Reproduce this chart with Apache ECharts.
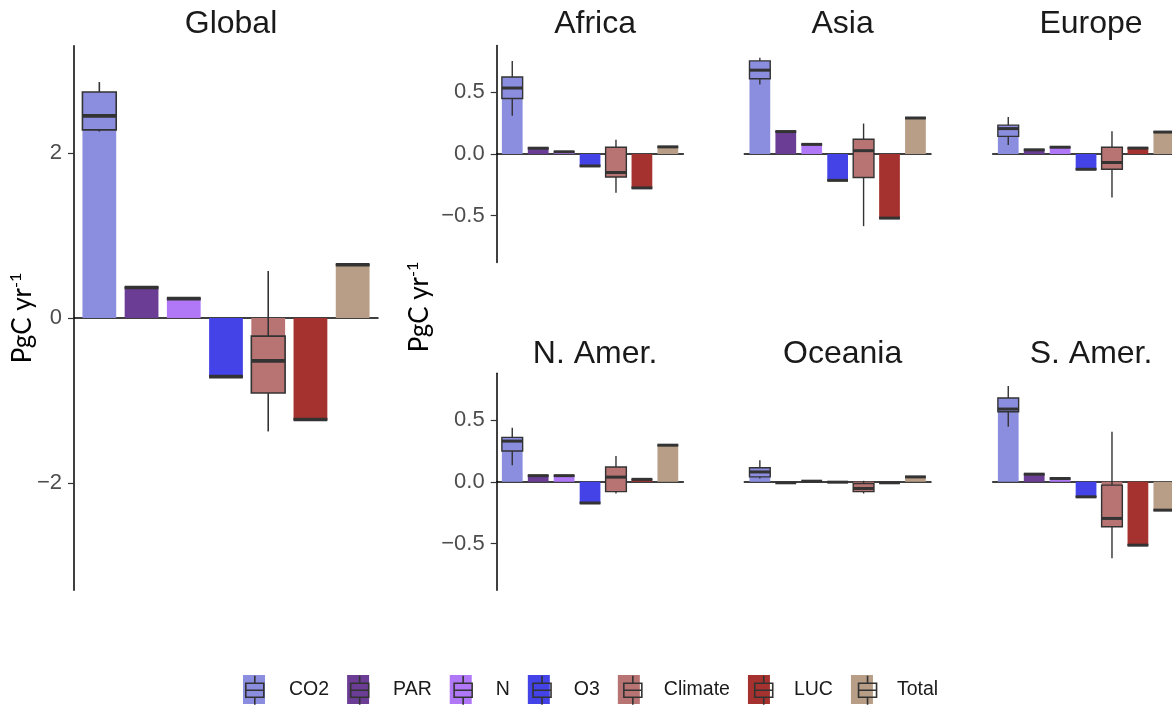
<!DOCTYPE html>
<html>
<head>
<meta charset="utf-8">
<script src="https://cdn.jsdelivr.net/npm/echarts@6/dist/echarts.min.js"></script>
<style>
  html, body { margin: 0; padding: 0; background: #fff; }
  #main { width: 1172px; height: 707px; }
</style>
</head>
<body>
<div id="main"></div>
<script>
// drivers and their colours
var categories = ['CO2', 'PAR', 'N', 'O3', 'Climate', 'LUC', 'Total'];
var colors = ['#8b8ddf', '#6b3d95', '#b078f6', '#4343e8', '#b87472', '#a6322f', '#b89e86'];
var panels = ['Global', 'Africa', 'Asia', 'Europe', 'N. Amer.', 'Oceania', 'S. Amer.'];

// bar heights (ensemble mean), PgC/yr
var meanGlobal  = [2.45, 0.38, 0.24, -0.71, -0.55, -1.23, 0.65];
var meanAfrica  = [0.53, 0.052, 0.02, -0.097, -0.12, -0.275, 0.062];
var meanAsia    = [0.68, 0.186, 0.082, -0.214, -0.03, -0.52, 0.296];
var meanEurope  = [0.17, 0.036, 0.057, -0.124, -0.07, 0.05, 0.182];
var meanNAmer   = [0.31, 0.052, 0.052, -0.172, 0.03, 0.022, 0.3];
var meanOceania = [0.07, -0.008, 0.006, -0.004, -0.05, -0.008, 0.042];
var meanSAmer   = [0.6, 0.064, 0.028, -0.124, -0.3, -0.515, -0.232];

// box stats per driver: [low whisker, q1, median, q3, high whisker]
var boxGlobal = [
  [2.26, 2.28, 2.45, 2.74, 2.86], [0.37, 0.37, 0.37, 0.37, 0.37], [0.235, 0.235, 0.235, 0.235, 0.235],
  [-0.71, -0.71, -0.71, -0.71, -0.71], [-1.375, -0.91, -0.52, -0.22, 0.57],
  [-1.23, -1.23, -1.23, -1.23, -1.23], [0.645, 0.645, 0.645, 0.645, 0.645]
];
var boxAfrica = [
  [0.31, 0.45, 0.535, 0.625, 0.755], [0.047, 0.047, 0.047, 0.047, 0.047], [0.018, 0.018, 0.018, 0.018, 0.018],
  [-0.097, -0.097, -0.097, -0.097, -0.097], [-0.315, -0.187, -0.15, 0.055, 0.115],
  [-0.275, -0.275, -0.275, -0.275, -0.275], [0.058, 0.058, 0.058, 0.058, 0.058]
];
var boxAsia = [
  [0.563, 0.61, 0.68, 0.755, 0.78], [0.182, 0.182, 0.182, 0.182, 0.182], [0.078, 0.078, 0.078, 0.078, 0.078],
  [-0.214, -0.214, -0.214, -0.214, -0.214], [-0.585, -0.19, 0.027, 0.12, 0.247],
  [-0.52, -0.52, -0.52, -0.52, -0.52], [0.292, 0.292, 0.292, 0.292, 0.292]
];
var boxEurope = [
  [0.074, 0.143, 0.206, 0.234, 0.3], [0.034, 0.034, 0.034, 0.034, 0.034], [0.055, 0.055, 0.055, 0.055, 0.055],
  [-0.124, -0.124, -0.124, -0.124, -0.124], [-0.352, -0.124, -0.069, 0.055, 0.184],
  [0.048, 0.048, 0.048, 0.048, 0.048], [0.178, 0.178, 0.178, 0.178, 0.178]
];
var boxNAmer = [
  [0.135, 0.25, 0.33, 0.36, 0.438], [0.05, 0.05, 0.05, 0.05, 0.05], [0.05, 0.05, 0.05, 0.05, 0.05],
  [-0.172, -0.172, -0.172, -0.172, -0.172], [-0.095, -0.08, 0.038, 0.12, 0.21],
  [0.02, 0.02, 0.02, 0.02, 0.02], [0.297, 0.297, 0.297, 0.297, 0.297]
];
var boxOceania = [
  [0.027, 0.04, 0.08, 0.114, 0.175], [-0.008, -0.008, -0.008, -0.008, -0.008], [0.005, 0.005, 0.005, 0.005, 0.005],
  [-0.003, -0.003, -0.003, -0.003, -0.003], [-0.095, -0.08, -0.054, -0.014, 0.008],
  [-0.008, -0.008, -0.008, -0.008, -0.008], [0.04, 0.04, 0.04, 0.04, 0.04]
];
var boxSAmer = [
  [0.446, 0.568, 0.59, 0.68, 0.776], [0.062, 0.062, 0.062, 0.062, 0.062], [0.027, 0.027, 0.027, 0.027, 0.027],
  [-0.122, -0.122, -0.122, -0.122, -0.122], [-0.62, -0.365, -0.297, -0.027, 0.405],
  [-0.514, -0.514, -0.514, -0.514, -0.514], [-0.23, -0.23, -0.23, -0.23, -0.23]
];

var globalTicks = [-2, 0, 2];
var regionTicks = [-0.5, 0, 0.5];

var means = [meanGlobal, meanAfrica, meanAsia, meanEurope, meanNAmer, meanOceania, meanSAmer];
var boxes = [boxGlobal, boxAfrica, boxAsia, boxEurope, boxNAmer, boxOceania, boxSAmer];

// panel layout (px)
var W = 186.7, H = 217;
var layout = [
  { left: 74, top: 45.75, width: 304, height: 544.5, lim: 3.3, axis: true },
  { left: 496.7, top: 45.5, width: W, height: H, lim: 0.88, axis: true },
  { left: 744.3, top: 45.5, width: W, height: H, lim: 0.88, axis: false },
  { left: 992.7, top: 45.5, width: W, height: H, lim: 0.88, axis: false },
  { left: 496.7, top: 373.3, width: W, height: H, lim: 0.88, axis: true },
  { left: 744.3, top: 373.3, width: W, height: H, lim: 0.88, axis: false },
  { left: 992.7, top: 373.3, width: W, height: H, lim: 0.88, axis: false }
];

var baseFont = 'Liberation Sans';

// box + whiskers drawn on top of each bar, like geom_boxplot
function makeBoxRenderer(big) {
  var lw = big ? 1.6 : 1.4;
  var medW = big ? 3.6 : 3;
  return function (params, api) {
    var x = api.value(0);
    var w = api.size([0.8, 0])[0];
    var hi = api.coord([x, api.value(5)]);
    var q3 = api.coord([x, api.value(4)]);
    var med = api.coord([x, api.value(3)]);
    var q1 = api.coord([x, api.value(2)]);
    var lo = api.coord([x, api.value(1)]);
    var cx = hi[0];
    var color = colors[params.dataIndex];
    return {
      type: 'group',
      children: [
        { type: 'line', shape: { x1: cx, y1: hi[1], x2: cx, y2: q3[1] }, style: { stroke: '#333', lineWidth: lw } },
        { type: 'line', shape: { x1: cx, y1: q1[1], x2: cx, y2: lo[1] }, style: { stroke: '#333', lineWidth: lw } },
        { type: 'rect', shape: { x: cx - w / 2, y: q3[1], width: w, height: q1[1] - q3[1] },
          style: { fill: color, stroke: '#333', lineWidth: lw } },
        { type: 'line', shape: { x1: cx - w / 2, y1: med[1], x2: cx + w / 2, y2: med[1] },
          style: { stroke: '#333', lineWidth: medW } }
      ]
    };
  };
}

var grids = [], xAxes = [], yAxes = [], titles = [], series = [];

layout.forEach(function (g, p) {
  grids.push({ left: g.left, top: g.top, width: g.width, height: g.height, containLabel: false, outerBoundsMode: 'none' });
  xAxes.push({
    type: 'value', gridIndex: p, min: 0.4, max: 7.6,
    axisLine: { show: true, onZero: true, lineStyle: { color: '#000', width: 1.5 } },
    axisTick: { show: false }, axisLabel: { show: false }, splitLine: { show: false }
  });
  var ticks = p === 0 ? globalTicks : regionTicks;
  yAxes.push({
    type: 'value', gridIndex: p, min: -g.lim, max: g.lim,
    axisLine: { show: g.axis, onZero: false, lineStyle: { color: '#000', width: 1.5 } },
    axisTick: { show: g.axis, customValues: ticks, length: 6, lineStyle: { color: '#333', width: 1.2 } },
    axisLabel: {
      show: g.axis, customValues: ticks, margin: 12, color: '#4d4d4d', fontSize: 22, fontFamily: baseFont,
      formatter: function (v) {
        var s = p === 0 ? String(Math.abs(v)) : Math.abs(v).toFixed(1);
        return v < 0 ? '\u2212' + s : s;
      }
    },
    splitLine: { show: false }
  });
  titles.push({
    text: panels[p], left: g.left + g.width / 2, textAlign: 'center',
    top: p < 4 ? 3 : 333,
    textStyle: { fontFamily: baseFont, fontSize: 32, fontWeight: 'normal', color: '#1a1a1a' }
  });
  series.push({
    type: 'bar', xAxisIndex: p, yAxisIndex: p, z: 2,
    barWidth: 0.8 * g.width / 7.2,
    data: means[p].map(function (v, i) { return [i + 1, v]; }),
    itemStyle: { color: function (params) { return colors[params.dataIndex]; } },
    silent: true, animation: false
  });
  series.push({
    type: 'custom', xAxisIndex: p, yAxisIndex: p, z: 3,
    renderItem: makeBoxRenderer(p === 0),
    encode: { x: 0, y: [1, 2, 3, 4, 5] },
    data: boxes[p].map(function (b, i) { return [i + 1].concat(b); }),
    silent: true, animation: false
  });
});

// empty series just to feed the legend
categories.forEach(function (c, i) {
  series.push({ type: 'scatter', name: c, data: [], xAxisIndex: 0, yAxisIndex: 0, itemStyle: { color: colors[i], opacity: 1 } });
});

var boxIcon = 'path://M0,0L0,0M22,29L22,29M11,0V7.5M2,7.5H20V21.5H2ZM2,14.5H20M11,21.5V29';
var legendBase = {
  data: categories, left: 243, top: 675, itemWidth: 22, itemHeight: 29, itemGap: 18,
  selectedMode: false, padding: 0
};
var legendText = { fontFamily: baseFont, fontSize: 19.5, color: '#1a1a1a', padding: [0, 0, 0, 19] };

var option = {
  backgroundColor: '#fff',
  animation: false,
  title: titles,
  grid: grids,
  xAxis: xAxes,
  yAxis: yAxes,
  legend: [
    Object.assign({}, legendBase, { icon: 'rect', textStyle: legendText }),
    Object.assign({}, legendBase, {
      icon: boxIcon,
      itemStyle: { color: 'transparent', borderColor: '#333', borderWidth: 1.6 },
      textStyle: Object.assign({}, legendText, { color: 'transparent' })
    })
  ],
  graphic: [
    {
      type: 'text', x: 23, y: 318, rotation: Math.PI / 2,
      style: {
        text: '{a|PgC yr}{b|-1}', align: 'center', verticalAlign: 'middle',
        rich: { a: { fontFamily: 'Lato', fontSize: 26, fill: '#000', lineHeight: 30 },
                b: { fontFamily: 'Lato', fontSize: 16, fill: '#000', verticalAlign: 'top', lineHeight: 30 } }
      }
    },
    {
      type: 'text', x: 420, y: 307, rotation: Math.PI / 2,
      style: {
        text: '{a|PgC yr}{b|-1}', align: 'center', verticalAlign: 'middle',
        rich: { a: { fontFamily: 'Lato', fontSize: 26, fill: '#000', lineHeight: 30 },
                b: { fontFamily: 'Lato', fontSize: 16, fill: '#000', verticalAlign: 'top', lineHeight: 30 } }
      }
    }
  ],
  series: series
};

var chart = echarts.init(document.getElementById('main'), null, { width: 1172, height: 707, renderer: 'canvas' });
chart.setOption(option);
</script>
</body>
</html>
